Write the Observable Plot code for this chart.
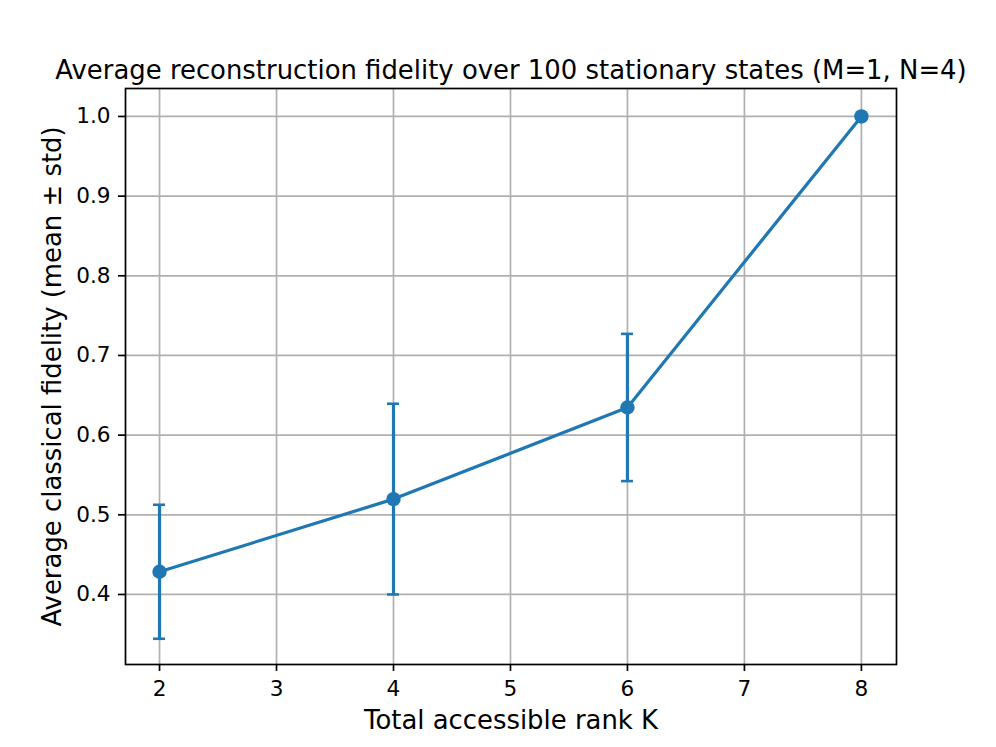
<!DOCTYPE html>
<html>
<head>
<meta charset="utf-8">
<script src="https://cdn.jsdelivr.net/npm/d3@7"></script>
<script src="https://cdn.jsdelivr.net/npm/@observablehq/plot@0.6"></script>
<style>
  html, body { margin: 0; padding: 0; background: #fff; }
  #chart svg { display: block; }
</style>
</head>
<body>
<div id="chart"></div>
<script>
const title = "Average reconstruction fidelity over 100 stationary states (M=1, N=4)";
const xLabel = "Total accessible rank K";
const yLabel = "Average classical fidelity (mean ± std)";
const ranks = [2, 4, 6, 8];
const meanFidelity = [0.4285, 0.5197, 0.6347, 1.0];
const stdFidelity = [0.0841, 0.1197, 0.0924, 0.0];
const xTicks = [2, 3, 4, 5, 6, 7, 8];
const yTicks = [0.4, 0.5, 0.6, 0.7, 0.8, 0.9, 1.0];

const data = ranks.map((k, i) => ({
  K: k, mean: meanFidelity[i], lo: meanFidelity[i] - stdFidelity[i], hi: meanFidelity[i] + stdFidelity[i]
}));
const withErr = data.filter((d, i) => stdFidelity[i] > 0);

const blue = "#1f77b4";
const font = "DejaVu Sans";

const chart = Plot.plot({
  width: 996,
  height: 747,
  marginLeft: 125,
  marginRight: 100,
  marginTop: 88,
  marginBottom: 83,
  style: { fontFamily: font, background: "#fff", color: "#000" },
  x: { domain: [1.709, 8.30], ticks: xTicks },
  y: { domain: [0.3121, 1.0351], ticks: yTicks },
  marks: [
    Plot.gridX(xTicks, { stroke: "#b0b0b0", strokeOpacity: 1, strokeWidth: 1.7 }),
    Plot.gridY(yTicks, { stroke: "#b0b0b0", strokeOpacity: 1, strokeWidth: 1.7 }),
    Plot.ruleX(withErr, { x: "K", y1: "lo", y2: "hi", stroke: blue, strokeWidth: 3.2 }),
    Plot.ruleY(withErr, { y: "lo", x1: "K", x2: "K", insetLeft: -6, insetRight: -6, stroke: blue, strokeWidth: 2.6 }),
    Plot.ruleY(withErr, { y: "hi", x1: "K", x2: "K", insetLeft: -6, insetRight: -6, stroke: blue, strokeWidth: 2.6 }),
    Plot.line(data, { x: "K", y: "mean", stroke: blue, strokeWidth: 3.2 }),
    Plot.dot(data, { x: "K", y: "mean", r: 7.2, fill: blue, stroke: "none" }),
    Plot.frame({ stroke: "#000", strokeWidth: 1.7 }),
    Plot.axisX(xTicks, { tickSize: 7, tickPadding: 9, fontSize: 21.6, label: null, tickFormat: d3.format("d"), stroke: "#000", strokeWidth: 1.7 }),
    Plot.axisY(yTicks, { tickSize: 7, tickPadding: 8, fontSize: 21.6, label: null, tickFormat: d3.format(".1f"), stroke: "#000", strokeWidth: 1.7 }),
    Plot.text([title], { frameAnchor: "top", dy: -10, lineAnchor: "bottom", fontSize: 25.9, fill: "#000" }),
    Plot.text([xLabel], { frameAnchor: "bottom", dy: 64, lineAnchor: "bottom", fontSize: 25.9, fill: "#000" }),
    Plot.text([yLabel], { frameAnchor: "left", dx: -73, rotate: -90, lineAnchor: "middle", textAnchor: "middle", fontSize: 25.9, fill: "#000" })
  ]
});
document.getElementById("chart").appendChild(chart);
</script>
</body>
</html>
